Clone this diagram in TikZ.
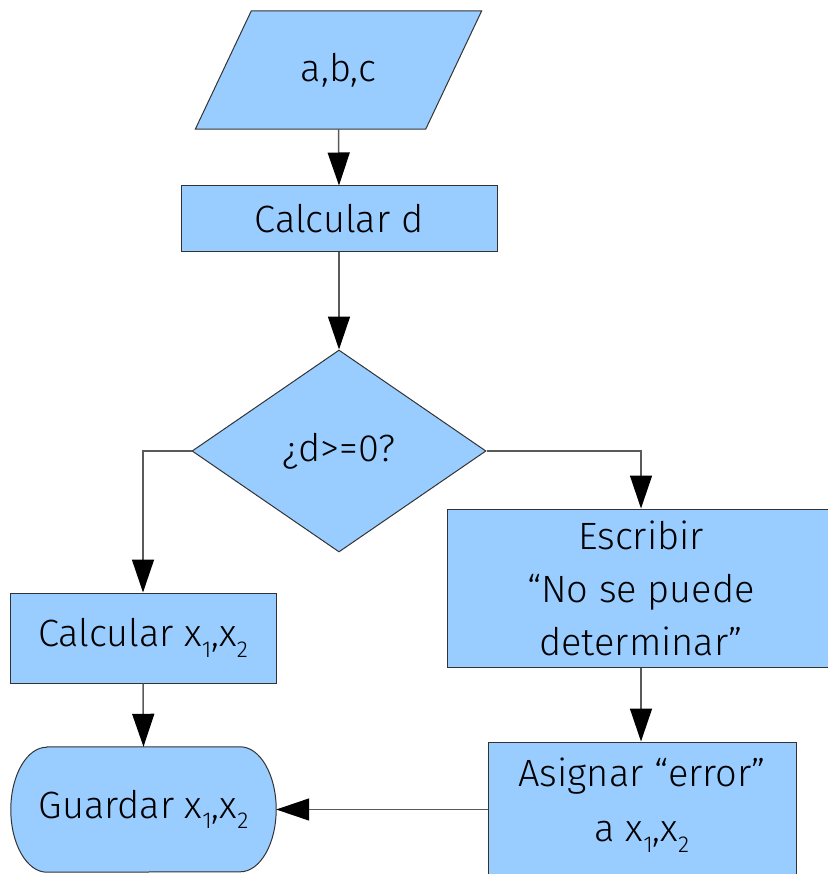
\documentclass[tikz,border=0pt]{standalone}
\usepackage{fontspec}
\setmainfont{Fira Sans}[UprightFont=* Light]
\usetikzlibrary{shapes.geometric,arrows.meta}
\definecolor{boxfill}{HTML}{99CCFF}
\definecolor{boxline}{HTML}{333333}
\definecolor{wire}{HTML}{5A5A5A}
\newcommand{\lowidx}[1]{\raisebox{-0.28em}{\fontsize{23}{23}\selectfont #1}}
\tikzset{
  base/.style={fill=boxfill, draw=boxline, line width=1pt, font=\fontsize{38}{53}\selectfont, align=center, inner sep=0pt},
  procbox/.style={base, rectangle},
  decbox/.style={base, diamond},
  outline/.style={fill=boxfill, draw=boxline, line width=1pt},
  flow/.style={draw=wire, line width=1.5pt, -{Triangle[width=22pt,length=33pt,color=black]}},
}
\begin{document}
\begin{tikzpicture}[x=1pt,y=-1pt]
\useasboundingbox (0,0) rectangle (827,874);

% input: parallelogram drawn around an invisible frame node
\node[minimum width=230pt, minimum height=118pt, inner sep=0pt] (io) at (338.5,70) {};
\path[outline]
  ([xshift=28pt]io.north west) -- ([xshift=28pt]io.north east)
  -- ([xshift=-28pt]io.south east) -- ([xshift=-28pt]io.south west) -- cycle;
\node[font=\fontsize{38}{53}\selectfont] at (io.center) {a,b,c};

\node[procbox, minimum width=316pt, minimum height=66pt] (calc) at (339,219) {Calcular d};

\node[decbox, minimum width=294pt, minimum height=202pt, aspect=1.455] (dec) at (339,451) {¿d>=0?};

\node[procbox, minimum width=266pt, minimum height=90pt] (cx) at (143,638)
  {Calcular x\lowidx{1},x\lowidx{2}};

\node[procbox, minimum width=392pt, minimum height=158pt] (esc) at (643,588) {};
\node[font=\fontsize{38}{53}\selectfont, align=center, inner sep=0pt] at (641,588)
  {Escribir\\“No se puede\\determinar”};

\node[procbox, minimum width=308pt, minimum height=148pt] (asig) at (642,816) {};
\node[font=\fontsize{38}{55}\selectfont, align=center, inner sep=0pt] at (642,805)
  {Asignar “error”\\a x\lowidx{1},x\lowidx{2}};

% terminal: box with elliptical ends
\node[minimum width=265pt, minimum height=125pt, inner sep=0pt] (guard) at (143.5,809.5) {};
\path[outline]
  ([xshift=36pt]guard.north west) -- ([xshift=-36pt]guard.north east)
  arc[start angle=90, end angle=-90, x radius=36pt, y radius=62.5pt]
  -- ([xshift=36pt]guard.south west)
  arc[start angle=270, end angle=90, x radius=36pt, y radius=62.5pt] -- cycle;
\node[font=\fontsize{38}{53}\selectfont] at (guard.center) {Guardar x\lowidx{1},x\lowidx{2}};

% connectors
\draw[flow] (io.south) -- (calc.north);
\draw[flow] (calc.south) -- (dec.north);
\draw[flow] (dec.west) -| (cx.north);
\draw[flow] (dec.east) -| ([xshift=-2pt]esc.north);
\draw[flow] (cx.south) -- (guard.north);
\draw[flow] ([xshift=-2pt]esc.south) -- ([xshift=-2pt]esc.south |- asig.north);
\draw[flow] (asig.west |- guard.east) -- (guard.east);
\end{tikzpicture}
\end{document}
